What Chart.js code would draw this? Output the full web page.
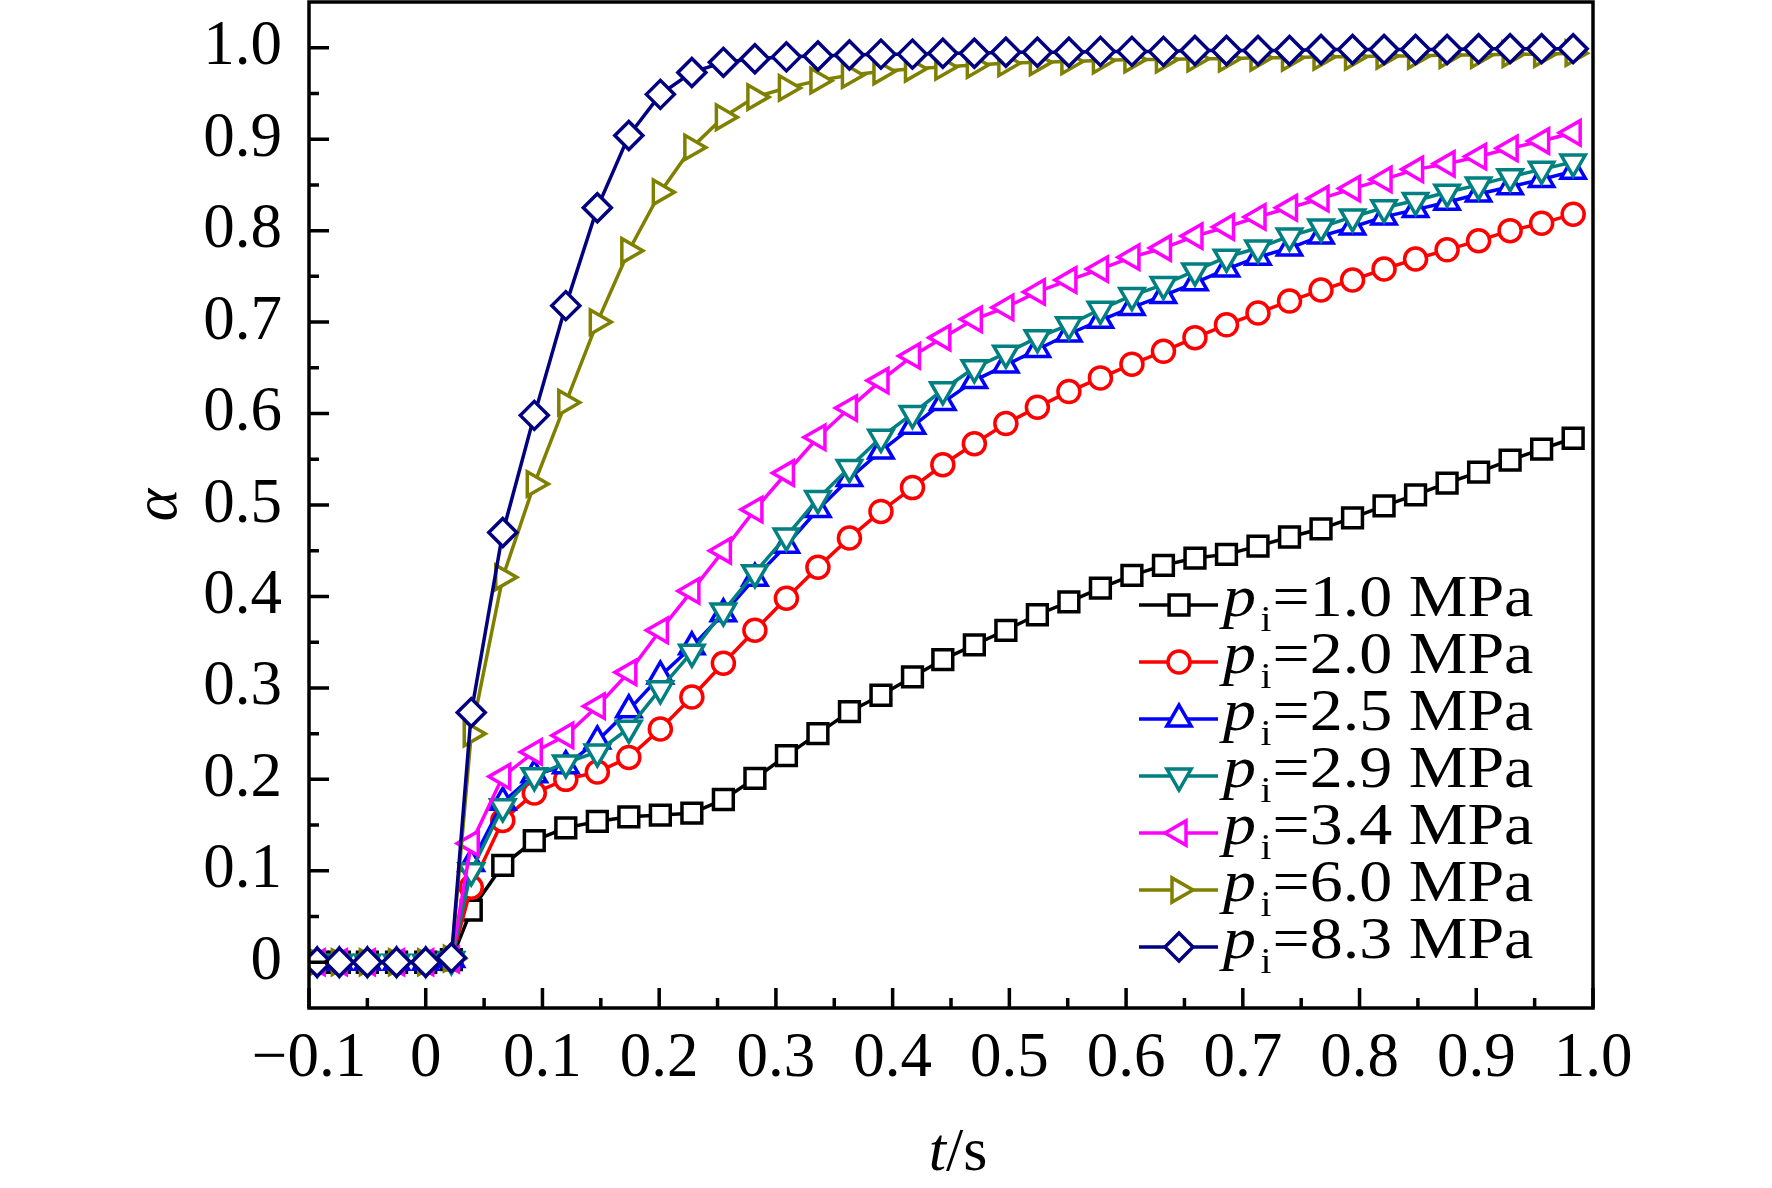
<!DOCTYPE html>
<html lang="en">
<head>
<meta charset="utf-8">
<title>alpha vs t</title>
<script src="https://cdn.jsdelivr.net/npm/chart.js@4.4.0/dist/chart.umd.min.js"></script>
<style>
  html, body { margin: 0; padding: 0; background: #ffffff; }
  #wrap { width: 1772px; height: 1188px; }
</style>
</head>
<body>
<div id="wrap"><canvas id="myChart" width="1772" height="1188"></canvas></div>
<script>
// time of each sample, s
var times = [-0.093, -0.074, -0.050, -0.025, 0.000, 0.022,
  0.039, 0.066, 0.093, 0.120, 0.147, 0.174, 0.201, 0.228, 0.255, 0.282,
  0.309, 0.336, 0.363, 0.390, 0.417, 0.443, 0.470, 0.497, 0.524, 0.551,
  0.578, 0.605, 0.632, 0.659, 0.686, 0.713, 0.740, 0.767, 0.794, 0.821,
  0.848, 0.875, 0.902, 0.929, 0.956, 0.983];

// alpha for each initial pressure
var a10 = [0, 0, 0, 0, 0, 0.003,
  0.057, 0.106, 0.133, 0.147, 0.154, 0.159, 0.161, 0.163, 0.178, 0.201,
  0.226, 0.250, 0.274, 0.292, 0.312, 0.331, 0.347, 0.363, 0.380, 0.394,
  0.409, 0.423, 0.434, 0.442, 0.446, 0.455, 0.465, 0.474, 0.486, 0.499,
  0.511, 0.524, 0.536, 0.549, 0.561, 0.573];
var a20 = [0, 0, 0, 0, 0, 0.003,
  0.082, 0.155, 0.185, 0.200, 0.208, 0.224, 0.255, 0.290, 0.327, 0.363,
  0.398, 0.432, 0.464, 0.493, 0.519, 0.544, 0.567, 0.589, 0.607, 0.624,
  0.639, 0.654, 0.668, 0.683, 0.697, 0.710, 0.723, 0.735, 0.746, 0.758,
  0.769, 0.779, 0.789, 0.800, 0.808, 0.818];
var a25 = [0, 0, 0, 0, 0, 0.003,
  0.108, 0.175, 0.205, 0.215, 0.242, 0.276, 0.313, 0.345, 0.381, 0.420,
  0.456, 0.495, 0.529, 0.559, 0.586, 0.612, 0.636, 0.653, 0.670, 0.687,
  0.702, 0.716, 0.729, 0.743, 0.758, 0.771, 0.781, 0.794, 0.804, 0.815,
  0.823, 0.831, 0.840, 0.848, 0.856, 0.865];
var a29 = [0, 0, 0, 0, 0, 0.003,
  0.100, 0.170, 0.204, 0.218, 0.230, 0.256, 0.299, 0.339, 0.384, 0.426,
  0.466, 0.507, 0.541, 0.574, 0.600, 0.626, 0.650, 0.666, 0.683, 0.697,
  0.714, 0.729, 0.741, 0.756, 0.771, 0.781, 0.794, 0.804, 0.815, 0.825,
  0.833, 0.842, 0.850, 0.859, 0.867, 0.875];
var a34 = [0, 0, 0, 0, 0, 0.003,
  0.130, 0.203, 0.230, 0.248, 0.280, 0.317, 0.363, 0.406, 0.450, 0.495,
  0.535, 0.574, 0.606, 0.636, 0.663, 0.683, 0.703, 0.716, 0.733, 0.746,
  0.758, 0.771, 0.781, 0.794, 0.804, 0.815, 0.825, 0.835, 0.846, 0.856,
  0.867, 0.873, 0.881, 0.890, 0.898, 0.907];
var a60 = [0, 0, 0, 0, 0, 0.004,
  0.250, 0.421, 0.523, 0.612, 0.700, 0.778, 0.842, 0.891, 0.924, 0.946,
  0.956, 0.964, 0.970, 0.974, 0.977, 0.979, 0.981, 0.983, 0.984, 0.985,
  0.986, 0.987, 0.987, 0.988, 0.988, 0.989, 0.989, 0.990, 0.990, 0.991,
  0.991, 0.992, 0.992, 0.993, 0.993, 0.994];
var a83 = [0, 0, 0, 0, 0, 0.005,
  0.273, 0.470, 0.598, 0.718, 0.825, 0.904, 0.949, 0.973, 0.984, 0.988,
  0.990, 0.991, 0.992, 0.993, 0.993, 0.994, 0.994, 0.995, 0.995, 0.995,
  0.996, 0.996, 0.996, 0.997, 0.997, 0.997, 0.997, 0.998, 0.998, 0.998,
  0.998, 0.998, 0.999, 0.999, 0.999, 0.999];

var pressures = ['1.0', '2.0', '2.5', '2.9', '3.4', '6.0', '8.3'];
var xTicks = [-0.1, 0, 0.1, 0.2, 0.3, 0.4, 0.5, 0.6, 0.7, 0.8, 0.9, 1.0];
var yTicks = [0, 0.1, 0.2, 0.3, 0.4, 0.5, 0.6, 0.7, 0.8, 0.9, 1.0];

var series = [a10, a20, a25, a29, a34, a60, a83];
var colors = ['#000000', '#ff0000', '#0000ff', '#008080', '#ff00ff', '#808000', '#000080'];
var styles = ['rect', 'circle', 'triangle', 'triangle', 'triangle', 'triangle', 'rectRot'];
var rotations = [0, 0, 0, 180, 270, 90, 0];
var radii = [14, 11, 14, 14, 14, 14, 14];

var FONT = '"Liberation Serif", "Times New Roman", serif';

function fmt(v) {
    if (Math.abs(v) < 1e-9) return '0';
    return (v < 0 ? '\u2212' : '') + Math.abs(v).toFixed(1);
}

function noPad(s) {
    s.paddingTop = 0; s.paddingBottom = 0; s.paddingLeft = 0; s.paddingRight = 0;
}

function drawMarker(ctx, style, rot, r, x, y) {
    ctx.beginPath();
    if (style === 'circle') {
        ctx.arc(x, y, r, 0, 2 * Math.PI);
    } else if (style === 'rect') {
        var s = r * Math.SQRT1_2;
        ctx.rect(x - s, y - s, 2 * s, 2 * s);
    } else if (style === 'rectRot') {
        ctx.moveTo(x - r, y);
        ctx.lineTo(x, y - r);
        ctx.lineTo(x + r, y);
        ctx.lineTo(x, y + r);
        ctx.closePath();
    } else {
        var a = rot * Math.PI / 180;
        for (var k = 0; k < 3; k++) {
            var ang = a + k * 2 * Math.PI / 3;
            var px = x + Math.sin(ang) * r, py = y - Math.cos(ang) * r;
            if (k === 0) ctx.moveTo(px, py); else ctx.lineTo(px, py);
        }
        ctx.closePath();
    }
    ctx.fill();
    ctx.stroke();
}

// frame, inward ticks, axis titles and legend
var decor = {
    id: 'decor',
    afterDraw: function (chart) {
        var ctx = chart.ctx, area = chart.chartArea;
        var xs = chart.scales.x, ys = chart.scales.y;
        ctx.save();
        ctx.strokeStyle = '#000';
        ctx.lineWidth = 3.5;
        ctx.lineCap = 'butt';
        ctx.strokeRect(area.left, area.top, area.right - area.left, area.bottom - area.top);

        ctx.beginPath();
        xTicks.forEach(function (v) {
            var px = xs.getPixelForValue(v);
            ctx.moveTo(px, area.bottom); ctx.lineTo(px, area.bottom - 20);
        });
        for (var i = 0; i < xTicks.length - 1; i++) {
            var px = xs.getPixelForValue((xTicks[i] + xTicks[i + 1]) / 2);
            ctx.moveTo(px, area.bottom); ctx.lineTo(px, area.bottom - 10);
        }
        yTicks.forEach(function (v) {
            var py = ys.getPixelForValue(v);
            ctx.moveTo(area.left, py); ctx.lineTo(area.left + 20, py);
        });
        for (var j = 0; j < yTicks.length - 1; j++) {
            var py = ys.getPixelForValue((yTicks[j] + yTicks[j + 1]) / 2);
            ctx.moveTo(area.left, py); ctx.lineTo(area.left + 10, py);
        }
        ctx.stroke();

        // x title: t/s
        ctx.fillStyle = '#000';
        ctx.textBaseline = 'alphabetic';
        ctx.textAlign = 'left';
        var fI = 'italic 62px ' + FONT, fN = '62px ' + FONT;
        ctx.font = fI; var wt = ctx.measureText('t').width;
        ctx.font = fN; var ws = ctx.measureText('/s').width;
        var x0 = 958 - (wt + ws) / 2;
        ctx.font = fI; ctx.fillText('t', x0, 1170);
        ctx.font = fN; ctx.fillText('/s', x0 + wt, 1170);

        // y title: alpha, rotated
        ctx.save();
        ctx.translate(176, 505);
        ctx.rotate(-Math.PI / 2);
        ctx.textAlign = 'center';
        ctx.font = fI;
        ctx.fillText('\u03b1', 0, 0);
        ctx.restore();

        // legend
        for (var k = 0; k < series.length; k++) {
            var ly = 605 + k * 57;
            ctx.strokeStyle = colors[k];
            ctx.lineWidth = 3.5;
            ctx.beginPath();
            ctx.moveTo(1139, ly); ctx.lineTo(1218, ly);
            ctx.stroke();
            ctx.fillStyle = '#fff';
            drawMarker(ctx, styles[k], rotations[k], radii[k], 1179, ly);
            ctx.fillStyle = '#000';
            ctx.save();
            ctx.translate(1223, ly + 11);
            ctx.scale(1.1, 1);
            var bx = 0;
            ctx.font = 'italic 60px ' + FONT; ctx.fillText('p', bx, 0);
            bx += ctx.measureText('p').width + 4;
            ctx.font = '36px ' + FONT; ctx.fillText('i', bx, 15);
            bx += ctx.measureText('i').width + 1;
            ctx.font = '60px ' + FONT; ctx.fillText('=' + pressures[k] + ' MPa', bx, 0);
            ctx.restore();
        }
        ctx.restore();
    }
};

var datasets = series.map(function (arr, i) {
    return {
        label: 'pi=' + pressures[i] + ' MPa',
        data: times.map(function (t, n) { return { x: t, y: arr[n] }; }),
        borderColor: colors[i],
        backgroundColor: '#ffffff',
        borderWidth: 3.5,
        pointStyle: styles[i],
        pointRotation: rotations[i],
        pointRadius: radii[i],
        pointBorderWidth: 3.5,
        pointBackgroundColor: '#ffffff',
        pointBorderColor: colors[i],
        tension: 0,
        fill: false,
        order: series.length - 1 - i
    };
});

var ctx = document.getElementById('myChart');
var myChart = new Chart(ctx, {
    type: 'line',
    data: { datasets: datasets },
    options: {
        responsive: false,
        animation: false,
        devicePixelRatio: 1,
        layout: { autoPadding: false, padding: { top: 2, right: 179, left: 0, bottom: 0 } },
        plugins: { legend: { display: false }, tooltip: { enabled: false } },
        scales: {
            x: {
                type: 'linear',
                min: -0.1,
                max: 1.0,
                afterBuildTicks: function (s) { s.ticks = xTicks.map(function (v) { return { value: v }; }); },
                afterFit: function (s) { s.height = 180; noPad(s); },
                grid: { display: false },
                border: { display: false },
                ticks: {
                    autoSkip: false, maxRotation: 0, padding: 6, color: '#000',
                    font: { family: FONT, size: 63 },
                    callback: function (v) { return fmt(v); }
                }
            },
            y: {
                type: 'linear',
                min: -0.05,
                max: 1.05,
                afterBuildTicks: function (s) { s.ticks = yTicks.map(function (v) { return { value: v }; }); },
                afterFit: function (s) { s.width = 309; noPad(s); },
                grid: { display: false },
                border: { display: false },
                ticks: {
                    autoSkip: false, padding: 19, color: '#000',
                    font: { family: FONT, size: 63 },
                    callback: function (v) { return fmt(v); }
                }
            }
        }
    },
    plugins: [decor]
});
</script>
</body>
</html>
